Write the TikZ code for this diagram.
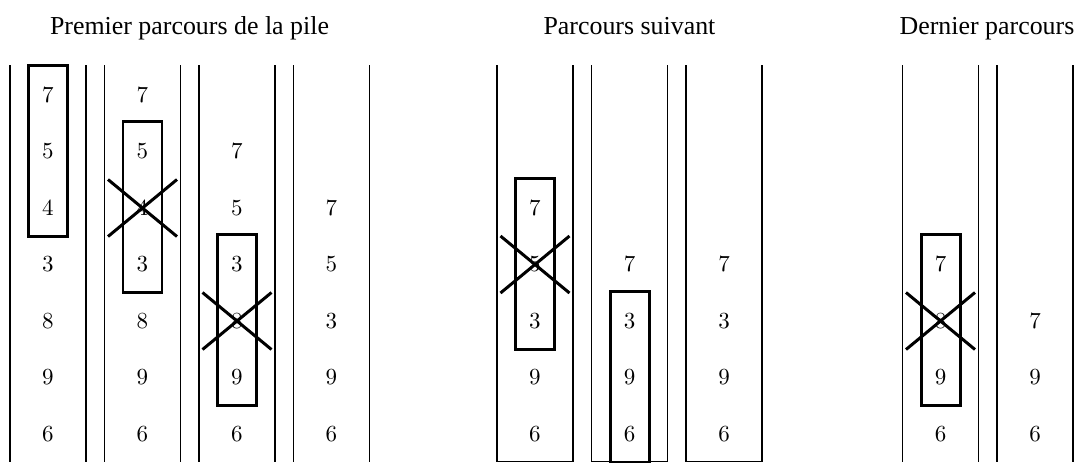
\documentclass[tikz,border=0pt]{standalone}
\usepackage{fontspec}
\newfontfamily\titrefont{Liberation Serif}

\tikzset{every picture/.style={line width=0.75pt}}
\tikzset{
  pile/.style={line width=0.45pt},
  cadre/.style={line width=1.3pt},
  croix/.style={line width=1.3pt},
  titre/.style={anchor=base, font=\titrefont\fontsize{11.25}{13}\selectfont},
}

\begin{document}
\begin{tikzpicture}[x=0.4345pt,y=0.4345pt,yscale=-1,xscale=1]
	\useasboundingbox (0,0) rectangle (1079,462);

	% Titles
	\node[titre] (t1) at (189.5,34.5) {Premier parcours de la pile};
	\node[titre] (t2) at (629.5,34.5) {Parcours suivant};
	\node[titre] (t3) at (987,34.5) {Dernier parcours};

	%Stacks: premier parcours
	\draw[pile] (10,65) -- (10,462) (86,65) -- (86,462) ;
	\draw[pile] (104.5,65) -- (104.5,462) (180.5,65) -- (180.5,462) ;
	\draw[pile] (199,65) -- (199,462) (275,65) -- (275,462) ;
	\draw[pile] (293.5,65) -- (293.5,462) (369.5,65) -- (369.5,462) ;
	%Stacks: parcours suivant
	\draw[pile] (497,65) -- (497,461.5) -- (573,461.5) -- (573,65) ;
	\draw[pile] (591.5,65) -- (591.5,461.5) -- (667.5,461.5) -- (667.5,65) ;
	\draw[pile] (686,65) -- (686,461.5) -- (762,461.5) -- (762,65) ;
	%Stacks: dernier parcours
	\draw[pile] (902.5,65) -- (902.5,462) (978.5,65) -- (978.5,462) ;
	\draw[pile] (997,65) -- (997,462) (1073,65) -- (1073,462) ;

	% Text Node
	\node (A7) at (48,95) {$7$};
	\node (A5) at (48,151.5) {$5$};
	\node (A4) at (48,208) {$4$};
	\node (A3) at (48,264.5) {$3$};
	\node (A8) at (48,321) {$8$};
	\node (A9) at (48,377.5) {$9$};
	\node (A6) at (48,434) {$6$};
	% Text Node
	\node (B7) at (142.5,95) {$7$};
	\node (B5) at (142.5,151.5) {$5$};
	\node (B4) at (142.5,208) {$4$};
	\node (B3) at (142.5,264.5) {$3$};
	\node (B8) at (142.5,321) {$8$};
	\node (B9) at (142.5,377.5) {$9$};
	\node (B6) at (142.5,434) {$6$};
	% Text Node
	\node (C7) at (237,151.5) {$7$};
	\node (C5) at (237,208) {$5$};
	\node (C3) at (237,264.5) {$3$};
	\node (C8) at (237,321) {$8$};
	\node (C9) at (237,377.5) {$9$};
	\node (C6) at (237,434) {$6$};
	% Text Node
	\node (D7) at (331.5,208) {$7$};
	\node (D5) at (331.5,264.5) {$5$};
	\node (D3) at (331.5,321) {$3$};
	\node (D9) at (331.5,377.5) {$9$};
	\node (D6) at (331.5,434) {$6$};
	% Text Node
	\node (E7) at (535,208) {$7$};
	\node (E5) at (535,264.5) {$5$};
	\node (E3) at (535,321) {$3$};
	\node (E9) at (535,377.5) {$9$};
	\node (E6) at (535,434) {$6$};
	% Text Node
	\node (F7) at (629.5,264.5) {$7$};
	\node (F3) at (629.5,321) {$3$};
	\node (F9) at (629.5,377.5) {$9$};
	\node (F6) at (629.5,434) {$6$};
	% Text Node
	\node (G7) at (724,264.5) {$7$};
	\node (G3) at (724,321) {$3$};
	\node (G9) at (724,377.5) {$9$};
	\node (G6) at (724,434) {$6$};
	% Text Node
	\node (H7) at (940.5,264.5) {$7$};
	\node (H8) at (940.5,321) {$8$};
	\node (H9) at (940.5,377.5) {$9$};
	\node (H6) at (940.5,434) {$6$};
	% Text Node
	\node (I7) at (1035,321) {$7$};
	\node (I9) at (1035,377.5) {$9$};
	\node (I6) at (1035,434) {$6$};

	%Shape: Rectangle
	\draw[cadre] ([shift={(-19.5,-30)}]A7.center) rectangle ([shift={(19.5,28)}]A4.center) ;
	\draw[cadre] ([shift={(-19.5,-30)}]B5.center) rectangle ([shift={(19.5,28)}]B3.center) ;
	\draw[cadre] ([shift={(-19.5,-30)}]C3.center) rectangle ([shift={(19.5,28)}]C9.center) ;
	\draw[cadre] ([shift={(-19.5,-30)}]E7.center) rectangle ([shift={(19.5,28)}]E3.center) ;
	\draw[cadre] ([shift={(-19.5,-30)}]F3.center) rectangle ([shift={(19.5,28)}]F6.center) ;
	\draw[cadre] ([shift={(-19.5,-30)}]H7.center) rectangle ([shift={(19.5,28)}]H9.center) ;

	%Shape: Cross
	\draw[croix] ([shift={(-34.5,-28.5)}]B4.center) -- ([shift={(34.5,28.5)}]B4.center) ([shift={(-34.5,28.5)}]B4.center) -- ([shift={(34.5,-28.5)}]B4.center) ;
	\draw[croix] ([shift={(-34.5,-28.5)}]C8.center) -- ([shift={(34.5,28.5)}]C8.center) ([shift={(-34.5,28.5)}]C8.center) -- ([shift={(34.5,-28.5)}]C8.center) ;
	\draw[croix] ([shift={(-34.5,-28.5)}]E5.center) -- ([shift={(34.5,28.5)}]E5.center) ([shift={(-34.5,28.5)}]E5.center) -- ([shift={(34.5,-28.5)}]E5.center) ;
	\draw[croix] ([shift={(-34.5,-28.5)}]H8.center) -- ([shift={(34.5,28.5)}]H8.center) ([shift={(-34.5,28.5)}]H8.center) -- ([shift={(34.5,-28.5)}]H8.center) ;

\end{tikzpicture}
\end{document}
